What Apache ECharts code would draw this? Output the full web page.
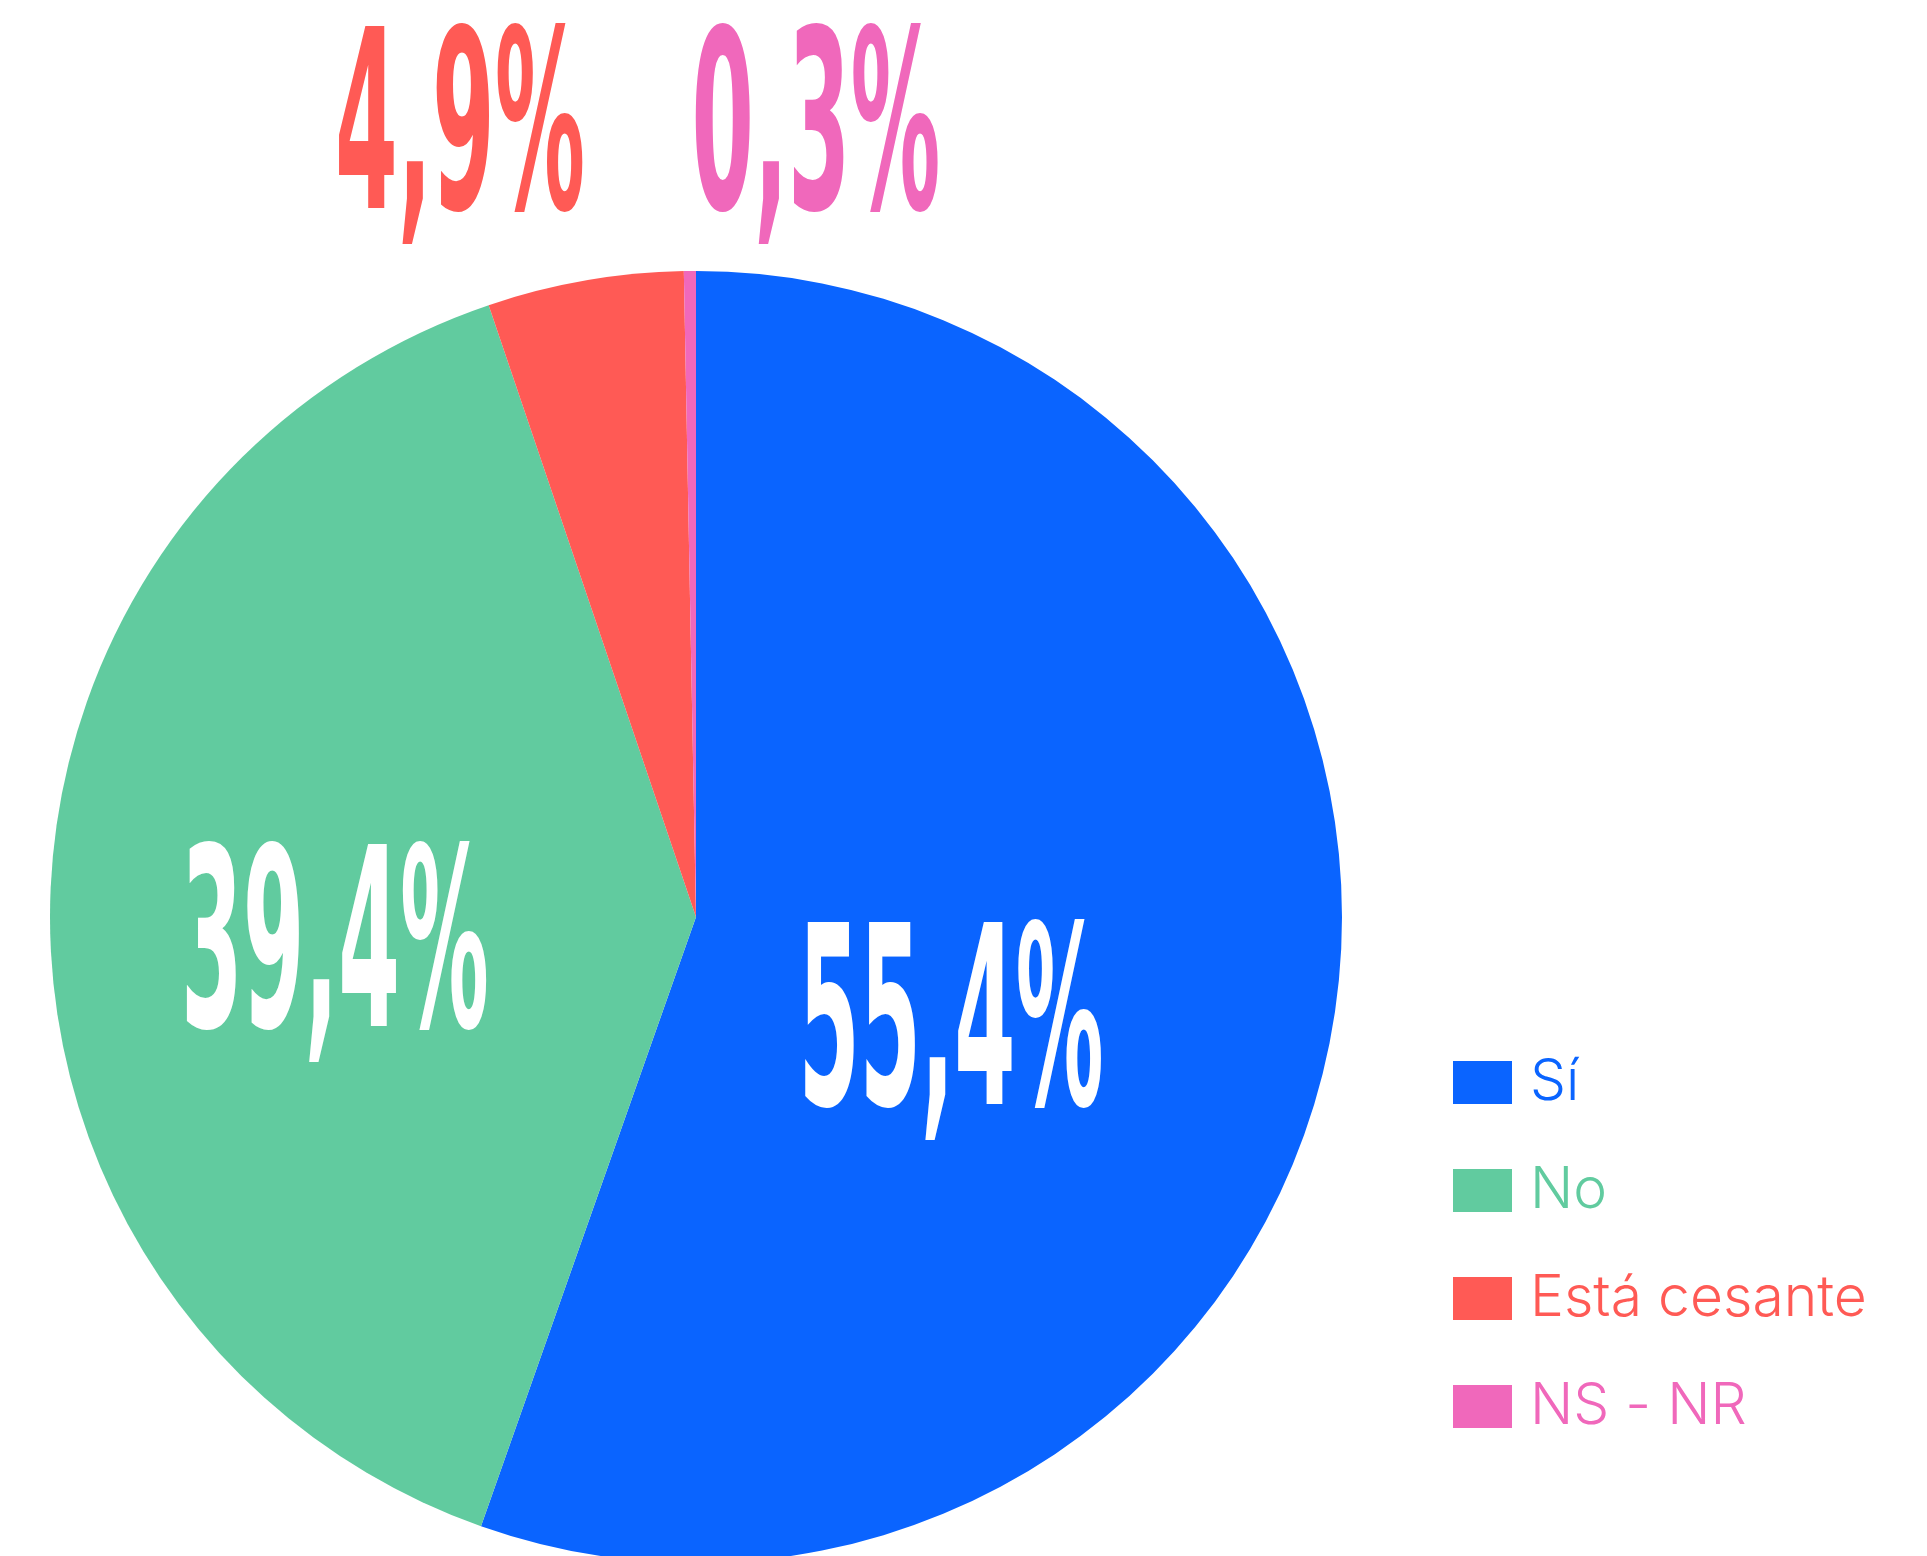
<!DOCTYPE html>
<html>
<head>
<meta charset="utf-8">
<script src="https://cdn.jsdelivr.net/npm/echarts@6/dist/echarts.min.js"></script>
<style>
  html, body { margin: 0; padding: 0; background: #ffffff; }
  #chart { width: 1927px; height: 1556px; }
</style>
</head>
<body>
<div id="chart"></div>
<script>
// Answer categories and their shares (percent)
const categories = ['Sí', 'No', 'Está cesante', 'NS - NR'];
const values = [55.4, 39.4, 4.9, 0.3];
const colors = ['#0A64FF', '#61CB9F', '#FF5A55', '#F068BB'];

// Big percentage labels: fill colour, where each one sits and how wide it runs
const labelFill = ['#FFFFFF', '#FFFFFF', '#FF5A55', '#F068BB'];
const labelPos = [[951, 1039], [335, 961], [460, 143], [816, 143]];
const labelWidth = [305, 308, 250, 249];

const chart = echarts.init(document.getElementById('chart'), null, { renderer: 'canvas' });

// Condensed display numerals: a heavy sans squeezed horizontally
const labelFont = 'DejaVu Sans';
const labelSize = 249;
const fontSpec = 'bold ' + labelSize + 'px "' + labelFont + '"';
const ctx = document.createElement('canvas').getContext('2d');
ctx.font = fontSpec;
const fmt = v => v.toFixed(1).replace('.', ',') + '%';

const labelGraphics = values.map((v, i) => ({
  type: 'text',
  x: labelPos[i][0],
  y: labelPos[i][1],
  scaleX: labelWidth[i] / ctx.measureText(fmt(v)).width,
  silent: true,
  z: 10,
  style: {
    text: fmt(v),
    fill: labelFill[i],
    font: fontSpec,
    align: 'center',
    verticalAlign: 'middle'
  }
}));

chart.setOption({
  animation: false,
  backgroundColor: '#ffffff',
  color: colors,
  legend: {
    orient: 'vertical',
    left: 1448,
    top: 1049,
    itemWidth: 59,
    itemHeight: 43,
    itemGap: 51,
    icon: 'rect',
    selectedMode: false,
    data: categories.map((c, i) => ({
      name: c,
      textStyle: { color: colors[i] }
    })),
    textStyle: {
      fontFamily: 'Inter',
      fontWeight: 300,
      fontSize: 57,
      lineHeight: 43,
      padding: [0, 0, 0, 13]
    }
  },
  series: [{
    type: 'pie',
    center: [696, 917],
    radius: [0, 646],
    startAngle: 90,
    clockwise: true,
    silent: true,
    label: { show: false },
    labelLine: { show: false },
    itemStyle: { borderWidth: 0 },
    data: categories.map((c, i) => ({ name: c, value: values[i] }))
  }],
  graphic: labelGraphics
});
</script>
</body>
</html>
